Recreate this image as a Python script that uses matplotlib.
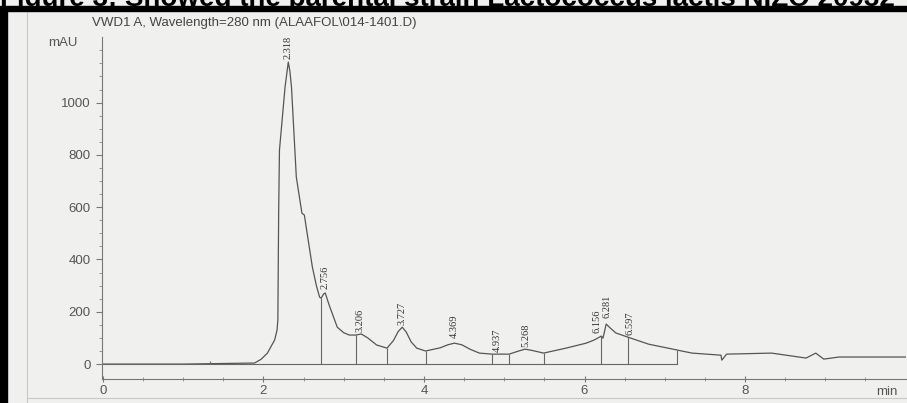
import numpy as np
import matplotlib
matplotlib.use("Agg")
import matplotlib.pyplot as plt

# signal (time in min, absorbance in mAU)
time = [0.0, 1.0, 1.89, 1.97, 2.05, 2.10, 2.14, 2.17, 2.18, 2.19, 2.20, 2.23, 2.27, 2.31,
        2.33, 2.35, 2.41, 2.48, 2.51, 2.56, 2.61, 2.66, 2.70, 2.72, 2.75, 2.77, 2.82,
        2.92, 3.00, 3.07, 3.15, 3.22, 3.30, 3.41, 3.54, 3.62, 3.68, 3.73, 3.78, 3.84,
        3.91, 4.02, 4.20, 4.30, 4.38, 4.47, 4.58, 4.69, 4.85, 5.06, 5.18, 5.26, 5.35,
        5.49, 5.77, 6.02, 6.12, 6.21, 6.23, 6.27, 6.32, 6.39, 6.54, 6.80, 7.15, 7.21,
        7.34, 7.70, 7.71, 7.77, 8.33, 8.76, 8.88, 8.98, 9.17, 10.0]
signal = [0, 0, 4, 18, 42, 70, 92, 130, 168, 577, 818, 922, 1060, 1155,
          1120, 1059, 715, 577, 570, 470, 371, 300, 256, 252, 268, 272, 225,
          141, 120, 111, 111, 115, 100, 73, 61, 90, 125, 141, 122, 85,
          61, 50, 62, 74, 80, 74, 56, 42, 38, 38, 50, 57, 52,
          42, 61, 80, 92, 107, 99, 153, 138, 119, 103, 76, 54, 50,
          42, 34, 15, 38, 42, 23, 42, 19, 27, 27]

# retention time labels and where their text starts
peak_rt = ["2.318", "2.756", "3.206", "3.727", "4.369", "4.937", "5.268", "6.156", "6.281", "6.597"]
label_x = [2.31, 2.77, 3.20, 3.73, 4.38, 4.91, 5.27, 6.16, 6.28, 6.57]
label_y = [1165, 287, 122, 149, 99, 46, 65, 119, 176, 111]

# integration marks (baseline drops)
mark_t = [2.72, 3.15, 3.54, 4.02, 4.85, 5.06, 5.49, 6.21, 6.54, 7.15]
mark_h = [252, 111, 61, 50, 38, 38, 42, 107, 103, 54]

fig = plt.figure(figsize=(9.07, 4.03), dpi=100)
fig.patch.set_facecolor("#f0f0ef")

# cut-off figure caption and black frame of the scan
fig.text(0.0, 0.985, "Figure 3: Showed the parental strain Lactococcus lactis NIZO 20932",
         fontsize=20, fontweight="bold", family="Liberation Sans", va="baseline", ha="left")
fig.patches.append(plt.Rectangle((0, 0.972), 1, 0.012, transform=fig.transFigure,
                                 color="black", zorder=5))
fig.patches.append(plt.Rectangle((0, 0), 0.008, 0.98, transform=fig.transFigure,
                                 color="black", zorder=5))
# faint frame of the printout
fig.lines.append(plt.Line2D([0.03, 0.03], [0.0, 0.97], transform=fig.transFigure,
                            color="#c8c8c8", lw=0.8))
fig.lines.append(plt.Line2D([0.03, 1.0], [0.013, 0.013], transform=fig.transFigure,
                            color="#c8c8c8", lw=0.8))

ax = fig.add_axes([0.1125, 0.0596, 0.886, 0.848])
ax.set_facecolor("none")
ax.plot(time, signal, color="#555555", lw=0.9)

# integration baseline and marks
ax.plot([-0.05, 7.15], [0, 0], color="#666666", lw=0.8)
ax.vlines(mark_t, 0, mark_h, color="#666666", lw=0.8)
ax.vlines([1.34], 0, 12, color="#666666", lw=0.8)

for txt, x, y in zip(peak_rt, label_x, label_y):
    ax.text(x, y, txt, rotation=90, ha="center", va="bottom", fontsize=7.5,
            family="Liberation Serif", color="#333333")

ax.set_xlim(-0.01, 10.0)
ax.set_ylim(-57, 1250)
for s in ["top", "right"]:
    ax.spines[s].set_visible(False)
for s in ["left", "bottom"]:
    ax.spines[s].set_color("#777777")
    ax.spines[s].set_linewidth(0.8)

ax.set_yticks([0, 200, 400, 600, 800, 1000])
ax.set_yticks(np.arange(0, 1250, 50), minor=True)
ax.set_xticks([0, 2, 4, 6, 8])
ax.set_xticks(np.arange(0, 10, 0.5), minor=True)
ax.tick_params(axis="y", which="major", direction="out", length=4, width=0.8,
               color="#777777", labelcolor="#555555", labelsize=9.5, pad=4)
ax.tick_params(axis="y", which="minor", direction="out", length=2.5, width=0.6, color="#888888")
ax.tick_params(axis="x", which="major", direction="inout", length=5, width=0.8,
               color="#777777", labelcolor="#555555", labelsize=9.5, pad=2)
ax.tick_params(axis="x", which="minor", direction="inout", length=3, width=0.6, color="#888888")
for lab in ax.get_xticklabels() + ax.get_yticklabels():
    lab.set_family("Liberation Sans")

fig.text(0.069, 0.893, "mAU", fontsize=9.5, family="Liberation Sans", color="#555555",
         ha="center", va="center")
fig.text(0.978, 0.027, "min", fontsize=9.5, family="Liberation Sans", color="#555555",
         ha="center", va="center")
fig.text(0.101, 0.943, "VWD1 A, Wavelength=280 nm (ALAAFOL\\014-1401.D)", fontsize=9.5,
         family="Liberation Sans", color="#444444", ha="left", va="center")

fig.savefig("out.png", dpi=100, facecolor=fig.get_facecolor())
